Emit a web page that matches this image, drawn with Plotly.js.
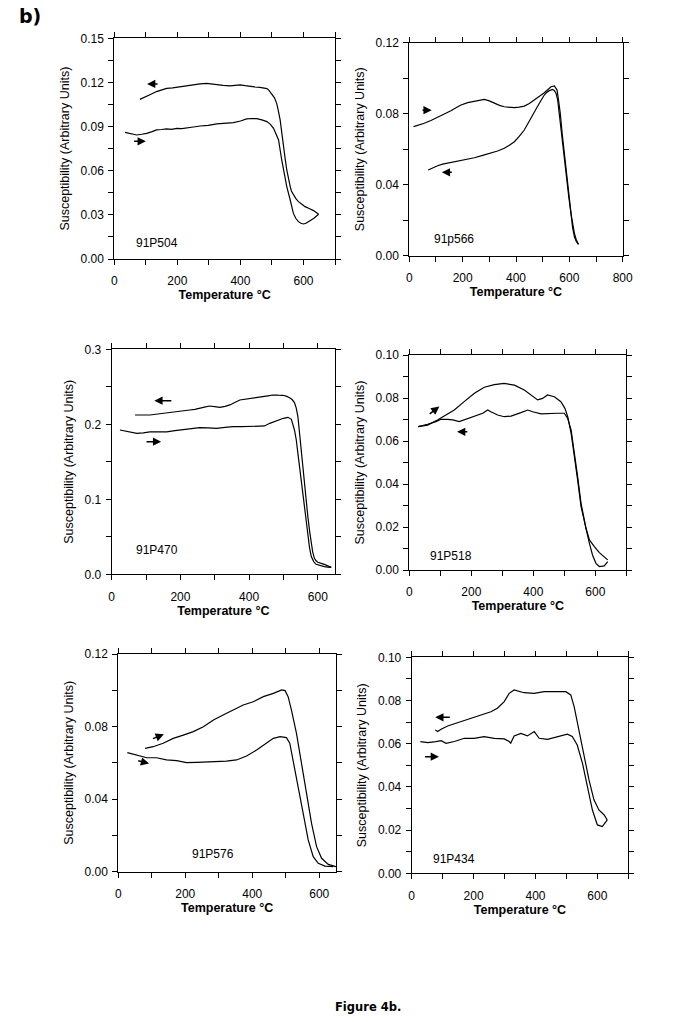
<!DOCTYPE html>
<html>
<head>
<meta charset="utf-8">
<script src="https://cdn.plot.ly/plotly-3.0.1.min.js"></script>
<style>
html,body{margin:0;padding:0;background:#fff;}
#chart{width:682px;height:1022px;}
</style>
</head>
<body>
<div id="chart"></div>
<script>
// ---------------- data ----------------
const p504HeatT = [34,50,71,87,103,120,134,150,166,182,198,214,230,251,272,298,325,350,378,400,420,436,452,468,484,495,505,513,521,531,539,547,558,568,576,584,592,600,608,616,632,648];
const p504HeatK = [0.0861,0.0852,0.0843,0.0848,0.0854,0.0866,0.0877,0.0880,0.0884,0.0881,0.0888,0.0886,0.0893,0.0897,0.0904,0.0908,0.0918,0.0920,0.0927,0.0938,0.0952,0.0955,0.0954,0.0946,0.0934,0.0915,0.0888,0.0850,0.0809,0.0673,0.0580,0.0492,0.0401,0.0310,0.0275,0.0254,0.0243,0.0238,0.0243,0.0254,0.0276,0.0304];
const p504CoolT = [648,640,632,618,605,595,584,576,568,562,558,552,547,542,537,531,526,520,515,508,499,490,484,473,462,445,431,415,399,383,367,345,325,310,293,272,251,230,208,185,166,150,134,118,103,90,81];
const p504CoolK = [0.0304,0.0318,0.0329,0.0343,0.0356,0.0372,0.0390,0.0410,0.0435,0.0460,0.0492,0.0550,0.0605,0.0680,0.0764,0.0855,0.0945,0.1010,0.1058,0.1095,0.1126,0.1148,0.1158,0.1163,0.1167,0.1170,0.1172,0.1178,0.1183,0.1180,0.1176,0.1180,0.1185,0.1190,0.1194,0.1190,0.1183,0.1175,0.1167,0.1163,0.1160,0.1150,0.1138,0.1122,0.1108,0.1095,0.1085];

const p566HeatT = [16,36,56,81,106,131,156,175,194,219,244,262,281,300,319,338,356,375,394,412,431,450,469,488,506,519,531,544,554,560,566,573,581,587,594,600,606,612,619,626,634];
const p566HeatK = [0.0727,0.0735,0.0746,0.0762,0.0779,0.0797,0.0817,0.0833,0.0849,0.0862,0.0871,0.0877,0.0881,0.0872,0.0858,0.0847,0.0839,0.0835,0.0834,0.0837,0.0843,0.0858,0.0877,0.0898,0.0918,0.0935,0.0952,0.0956,0.0933,0.0870,0.0802,0.0690,0.0577,0.0480,0.0389,0.0300,0.0220,0.0160,0.0107,0.0080,0.0064];
const p566CoolT = [634,626,619,612,606,598,591,583,575,568,562,556,550,544,537,531,525,515,506,488,469,450,431,412,394,375,356,331,306,275,244,212,181,162,144,125,106,88,71];
const p566CoolK = [0.0064,0.0090,0.0126,0.0180,0.0239,0.0330,0.0426,0.0540,0.0652,0.0740,0.0821,0.0880,0.0915,0.0930,0.0937,0.0935,0.0930,0.0920,0.0905,0.0860,0.0811,0.0757,0.0708,0.0672,0.0642,0.0622,0.0605,0.0590,0.0577,0.0565,0.0552,0.0543,0.0535,0.0530,0.0524,0.0516,0.0507,0.0495,0.0483];

const p470HeatT = [24,48,73,92,111,135,160,184,208,232,256,280,305,330,353,378,402,425,445,460,475,489,500,513,523,532,537,542,547,552,556,561,566,571,576,581,588,595,607,619,629,639];
const p470HeatK = [0.1924,0.1900,0.1880,0.1885,0.1900,0.1898,0.1900,0.1915,0.1930,0.1945,0.1956,0.1952,0.1947,0.1960,0.1969,0.1968,0.1969,0.1972,0.1978,0.2013,0.2040,0.2067,0.2080,0.2093,0.2067,0.1924,0.1800,0.1613,0.1430,0.1258,0.1080,0.0902,0.0700,0.0502,0.0350,0.0236,0.0170,0.0133,0.0115,0.0102,0.0096,0.0093];
const p470CoolT = [639,629,619,610,600,595,590,585,581,576,571,566,561,556,552,547,542,537,532,525,518,508,498,484,469,455,440,421,402,388,373,358,344,330,315,300,285,270,256,242,227,208,189,170,150,130,111,90,68];
const p470CoolK = [0.0093,0.0118,0.0133,0.0145,0.0160,0.0180,0.0213,0.0300,0.0413,0.0580,0.0769,0.1000,0.1258,0.1480,0.1702,0.1900,0.2102,0.2220,0.2289,0.2330,0.2355,0.2375,0.2387,0.2388,0.2391,0.2380,0.2369,0.2360,0.2347,0.2335,0.2324,0.2290,0.2258,0.2240,0.2227,0.2235,0.2244,0.2230,0.2213,0.2200,0.2191,0.2180,0.2169,0.2158,0.2147,0.2135,0.2124,0.2124,0.2124];

const p518HeatT = [29,59,91,113,145,177,210,242,274,306,339,371,398,414,430,446,468,489,502,511,522,532,543,554,570,581,591,602,613,629,640];
const p518HeatK = [0.0667,0.0674,0.0698,0.0716,0.0744,0.0783,0.0822,0.0850,0.0862,0.0868,0.0860,0.0837,0.0806,0.0791,0.0798,0.0814,0.0806,0.0783,0.0752,0.0713,0.0636,0.0543,0.0419,0.0295,0.0186,0.0124,0.0070,0.0031,0.0016,0.0019,0.0039];
const p518CoolT = [640,629,613,597,581,570,554,543,532,522,511,500,478,446,425,398,382,360,328,306,285,263,253,237,210,183,161,140,124,102,86,59,29];
const p518CoolK = [0.0047,0.0062,0.0081,0.0109,0.0140,0.0194,0.0310,0.0434,0.0558,0.0651,0.0705,0.0729,0.0729,0.0729,0.0726,0.0736,0.0744,0.0732,0.0716,0.0713,0.0721,0.0736,0.0744,0.0729,0.0716,0.0701,0.0690,0.0698,0.0701,0.0701,0.0690,0.0678,0.0667];

const p576LowT = [27,45,65,85,114,144,174,204,234,264,294,323,353,383,413,443,463,483,502,512,522,537,552,567,582,597,617,642];
const p576LowK = [0.0656,0.0647,0.0634,0.0628,0.0628,0.0616,0.0612,0.0601,0.0603,0.0605,0.0606,0.0610,0.0616,0.0638,0.0671,0.0711,0.0735,0.0744,0.0739,0.0708,0.0616,0.0469,0.0322,0.0175,0.0083,0.0046,0.0031,0.0028];
const p576HighT = [80,104,134,164,194,224,254,284,313,343,373,403,433,463,488,498,507,517,532,547,562,577,592,607,627,642,650];
const p576HighK = [0.0680,0.0689,0.0708,0.0735,0.0753,0.0772,0.0799,0.0836,0.0864,0.0891,0.0919,0.0937,0.0965,0.0983,0.1002,0.0998,0.0965,0.0891,0.0763,0.0597,0.0432,0.0266,0.0138,0.0074,0.0040,0.0031,0.0028];

const p434HeatT = [28,52,78,95,111,138,170,202,234,267,299,315,320,331,353,374,396,412,439,471,503,519,535,552,568,584,600,616,632];
const p434HeatK = [0.0610,0.0605,0.0610,0.0614,0.0602,0.0610,0.0625,0.0625,0.0633,0.0625,0.0622,0.0610,0.0602,0.0636,0.0648,0.0636,0.0656,0.0625,0.0620,0.0633,0.0644,0.0633,0.0594,0.0509,0.0401,0.0293,0.0224,0.0216,0.0247];
const p434CoolT = [632,622,605,589,573,557,541,525,514,498,460,428,396,363,331,315,299,277,256,224,202,170,138,116,95,84,76];
const p434CoolK = [0.0247,0.0270,0.0293,0.0340,0.0432,0.0540,0.0664,0.0772,0.0826,0.0841,0.0841,0.0841,0.0833,0.0836,0.0849,0.0833,0.0795,0.0764,0.0748,0.0733,0.0722,0.0707,0.0694,0.0682,0.0667,0.0656,0.0664];

// sample names and small direction arrows [tailT, tailK, headT, headK]
const sampleNames = ['91P504','91p566','91P470','91P518','91P576','91P434'];
const labelPos = [[134,0.0111],[169,0.0094],[131,0.0324],[134,0.0065],[282,0.0097],[138,0.0065]];
const arrowsData = [
  [[142,0.119,104,0.119],[58,0.0800,100,0.0800]],
  [[44,0.082,84,0.082],[165,0.047,122,0.047]],
  [[178,0.2315,124,0.2315],[97,0.1769,144,0.1769]],
  [[61,0.0721,97,0.076],[192,0.0643,154,0.0643]],
  [[99,0.073,136,0.0757],[55,0.0614,92,0.0597]],
  [[128,0.0722,76,0.0722],[38,0.054,88,0.054]]
];
const xMax = [700,800,650,700,650,700];
const yMax = [0.15,0.12,0.3,0.10,0.12,0.10];
const yStep = [0.03,0.04,0.1,0.02,0.04,0.02];
const yFmt = ['.2f','.2f','.1f','.2f','.2f','.2f'];

// ---------------- layout geometry (pixels: left, top, right, bottom) ----------------
const W = 682, H = 1022;
const boxes = [
  [114.3,38.3,335,259],
  [409.3,42.7,622.7,255.7],
  [111.7,349.3,335,574.3],
  [409.3,355,626.3,570],
  [118.3,654,336,871.7],
  [411.7,657.3,628.3,873.3]
];
const curves = [
  [[p504HeatT,p504HeatK],[p504CoolT,p504CoolK]],
  [[p566HeatT,p566HeatK],[p566CoolT,p566CoolK]],
  [[p470HeatT,p470HeatK],[p470CoolT,p470CoolK]],
  [[p518HeatT,p518HeatK],[p518CoolT,p518CoolK]],
  [[p576LowT,p576LowK],[p576HighT,p576HighK]],
  [[p434HeatT,p434HeatK],[p434CoolT,p434CoolK]]
];

const FONT = 'Liberation Sans, Arial, Helvetica, sans-serif';
const traces = [];
const layout = {
  width: W, height: H,
  margin: {l:0, r:0, t:0, b:0},
  paper_bgcolor: '#fff', plot_bgcolor: '#fff',
  showlegend: false,
  font: {family: FONT, color: '#000', size: 11},
  annotations: []
};

function baseAxis() {
  return {
    showline: true, linecolor: '#000', linewidth: 1,
    mirror: 'ticks', ticks: 'outside', ticklen: 5, tickwidth: 1, tickcolor: '#000',
    showgrid: false, zeroline: false, fixedrange: true,
    tickfont: {family: FONT, size: 12, color: '#000'}
  };
}

for (let i = 0; i < 6; i++) {
  const n = i + 1;
  const xa = n === 1 ? 'x' : 'x' + n;
  const ya = n === 1 ? 'y' : 'y' + n;
  const b = boxes[i];
  curves[i].forEach(c => {
    traces.push({
      type: 'scatter', mode: 'lines', x: c[0], y: c[1],
      xaxis: xa, yaxis: ya, hoverinfo: 'skip',
      line: {color: '#000', width: 1.2}
    });
  });
  const xax = Object.assign(baseAxis(), {
    domain: [b[0] / W, b[2] / W], anchor: ya,
    range: [0, xMax[i]], tick0: 0, dtick: 200, tickformat: 'd',
    ticklabelstandoff: 6,
    minor: {dtick: 100, ticks: 'outside', ticklen: 5, tickwidth: 1, tickcolor: '#000', showgrid: false},
    title: {text: 'Temperature °C', standoff: 1, font: {family: FONT, size: 12.5, weight: 700, color: '#000'}}
  });
  const yax = Object.assign(baseAxis(), {
    domain: [1 - b[3] / H, 1 - b[1] / H], anchor: xa,
    range: [0, yMax[i] * 1.000001], tick0: 0, dtick: yStep[i], tickformat: yFmt[i],
    ticklabelstandoff: 2,
    minor: {dtick: yStep[i] / 2, ticks: 'outside', ticklen: 5, tickwidth: 1, tickcolor: '#000', showgrid: false},
    title: {text: 'Susceptibility (Arbitrary Units)', standoff: 8, font: {family: FONT, size: 12.5, color: '#000'}}
  });
  layout['xaxis' + (n === 1 ? '' : n)] = xax;
  layout['yaxis' + (n === 1 ? '' : n)] = yax;

  layout.annotations.push({
    xref: xa, yref: ya, x: labelPos[i][0], y: labelPos[i][1],
    xanchor: 'center', yanchor: 'middle',
    text: sampleNames[i], showarrow: false,
    font: {family: FONT, size: 12, color: '#000'}
  });
  arrowsData[i].forEach(a => {
    layout.annotations.push({
      xref: xa, yref: ya, axref: xa, ayref: ya,
      x: a[2], y: a[3], ax: a[0], ay: a[1],
      text: '', showarrow: true, arrowhead: 2, arrowsize: 1.1,
      arrowwidth: 1.5, arrowcolor: '#000', standoff: 0, startstandoff: 0
    });
  });
}

layout.annotations.push({
  xref: 'paper', yref: 'paper', x: 30 / W, y: 1 - 16 / H,
  xanchor: 'center', yanchor: 'middle',
  text: '<b>b)</b>', showarrow: false,
  font: {family: 'DejaVu Sans, Verdana, sans-serif', size: 19, color: '#000'}
});
layout.annotations.push({
  xref: 'paper', yref: 'paper', x: 368 / W, y: 1 - 1007 / H,
  xanchor: 'center', yanchor: 'middle',
  text: '<b>Figure 4b.</b>', showarrow: false,
  font: {family: 'DejaVu Sans, Verdana, sans-serif', size: 11.5, color: '#000'}
});

Plotly.newPlot('chart', traces, layout, {staticPlot: true, displayModeBar: false});
</script>
</body>
</html>
